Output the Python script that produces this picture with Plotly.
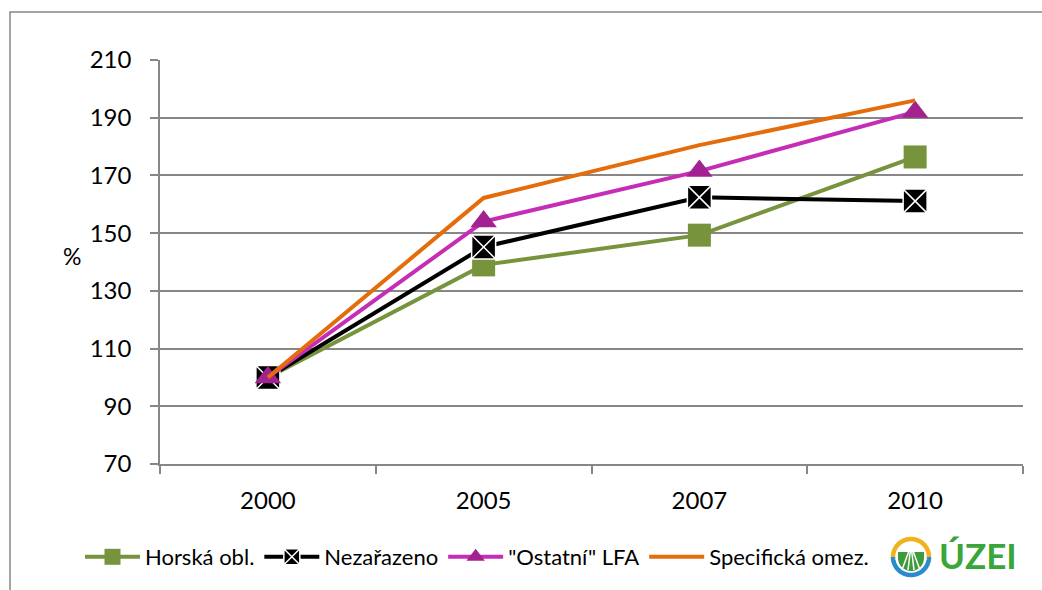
import math
import plotly.graph_objects as go

# ---- data -------------------------------------------------------------
years = ["2000", "2005", "2007", "2010"]
horska = [100, 139, 149.3, 176.4]
nezarazeno = [100, 145.2, 162.4, 161.1]
ostatni = [100, 154, 171.5, 192]
specificka = [100, 162.2, 180.5, 196]
y_ticks = [70, 90, 110, 130, 150, 170, 190, 210]

# ---- page geometry (pixels) ------------------------------------------
W, H = 1042, 590
L, R, T, B = 160, 19, 60, 126
PW, PH = W - L - R, H - T - B

GRID = "#878787"
FONT = "Lato"


def px(x, y):
    """pixel position on the page -> paper coordinates"""
    return (x - L) / PW, (H - B - y) / PH


def poly_path(points, close=False):
    pts = [px(x, y) for x, y in points]
    d = "M" + " L".join(f"{a:.5f},{b:.5f}" for a, b in pts)
    return d + (" Z" if close else "")


def arc(cx, cy, r, a0, a1, n=40):
    return [(cx + r * math.cos(math.radians(a0 + (a1 - a0) * i / n)),
             cy - r * math.sin(math.radians(a0 + (a1 - a0) * i / n))) for i in range(n + 1)]


fig = go.Figure()

fig.add_trace(go.Scatter(
    x=years, y=horska, name="Horská obl.", mode="lines+markers",
    line=dict(color="#77933C", width=4),
    marker=dict(symbol="square", size=23, color="#77933C"),
))
fig.add_trace(go.Scatter(
    x=years, y=nezarazeno, name="Nezařazeno", mode="lines+markers",
    line=dict(color="#000000", width=4),
    marker=dict(symbol="square-x", size=24, color="#000000",
                line=dict(color="#FFFFFF", width=1.5)),
))
fig.add_trace(go.Scatter(
    x=years, y=ostatni, name="\"Ostatní\" LFA", mode="lines+markers",
    line=dict(color="#C52DB6", width=4),
    marker=dict(symbol="triangle-up", size=23, color="#A2228F"),
))
fig.add_trace(go.Scatter(
    x=years, y=specificka, name="Specifická omez.", mode="lines",
    line=dict(color="#E46C0A", width=4),
))

shapes = []
# outer chart frame
fx0, fy0 = px(10, 12)
fx1, fy1 = px(W + 20, H + 20)
shapes.append(dict(type="rect", xref="paper", yref="paper",
                   x0=fx0, y0=fy1, x1=fx1, y1=fy0,
                   line=dict(color=GRID, width=1.5), layer="below"))

# emblem next to the legend: sun / field circle
cx, cy, r = 911, 557, 18
shapes.append(dict(type="path", xref="paper", yref="paper",
                   path=poly_path(arc(cx, cy, r, 0, 180)),
                   line=dict(color="#F2B21B", width=4.5)))
shapes.append(dict(type="path", xref="paper", yref="paper",
                   path=poly_path(arc(cx, cy, r, 180, 360)),
                   line=dict(color="#2A8ACB", width=4.5)))
shapes.append(dict(type="path", xref="paper", yref="paper",
                   path=poly_path(arc(cx, cy + 1, r - 5, 180, 360) +
                                  [(cx + r - 5, cy - 5), (cx - r + 5, cy - 5)], close=True),
                   fillcolor="#3E9B3A", line=dict(width=0)))
for k in (-6, -2, 2, 6):
    shapes.append(dict(type="path", xref="paper", yref="paper",
                       path=poly_path([(cx + k * 0.4, cy - 5), (cx + k * 1.5, cy + 13)]),
                       line=dict(color="#FFFFFF", width=1.5)))

annotations = [
    dict(text="%", x=px(61, 0)[0], y=px(0, 256)[1], xref="paper", yref="paper",
         showarrow=False, font=dict(family=FONT, size=23, color="#000000")),
    dict(text="<b>ÚZEI</b>", x=px(937, 0)[0], y=px(0, 555)[1], xref="paper", yref="paper",
         xanchor="left", yanchor="middle", showarrow=False,
         font=dict(family=FONT, size=35, color="#3AA63A")),
]

lx, ly = px(80, 557)

fig.update_layout(
    width=W, height=H,
    margin=dict(l=L, r=R, t=T, b=B, pad=0),
    paper_bgcolor="#FFFFFF", plot_bgcolor="#FFFFFF",
    font=dict(family=FONT, color="#000000"),
    showlegend=True,
    legend=dict(orientation="h", x=lx, y=ly, xanchor="left", yanchor="middle",
                font=dict(family=FONT, size=22, color="#000000"),
                itemwidth=55, tracegroupgap=0, bgcolor="rgba(0,0,0,0)"),
    xaxis=dict(type="category", range=[-0.5, 3.5],
               showline=True, linecolor=GRID, linewidth=1.5,
               showgrid=False, zeroline=False,
               ticks="outside", tickson="boundaries", ticklen=8,
               tickcolor=GRID, tickwidth=1.5,
               tickfont=dict(family=FONT, size=24, color="#000000"),
               ticklabelstandoff=14),
    yaxis=dict(range=[70, 210], tickvals=y_ticks,
               showline=True, linecolor=GRID, linewidth=1.5,
               showgrid=True, gridcolor=GRID, gridwidth=1.5, zeroline=False,
               ticks="outside", ticklen=8, tickcolor=GRID, tickwidth=1.5,
               tickfont=dict(family=FONT, size=24, color="#000000"),
               ticklabelstandoff=14),
    shapes=shapes,
    annotations=annotations,
)

fig.write_html("out.html")
